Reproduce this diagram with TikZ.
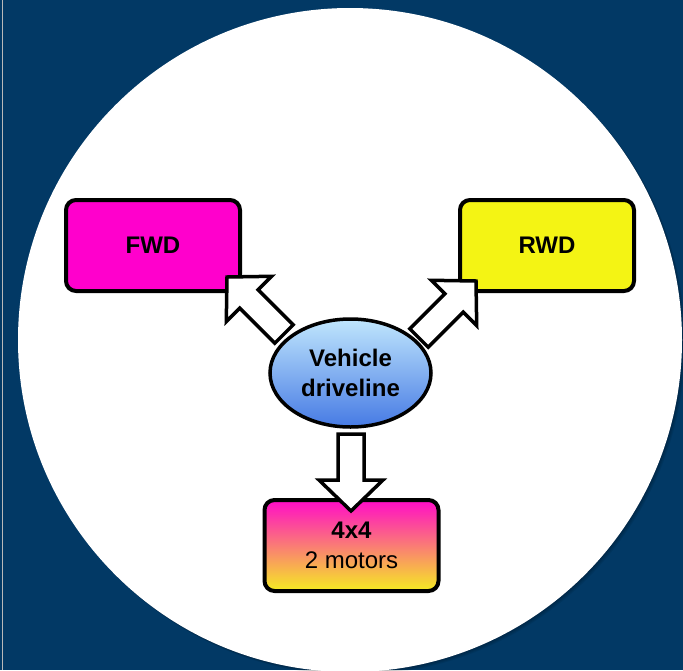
\documentclass[tikz,border=0pt]{standalone}
\usepackage{fontspec}
\setmainfont{Liberation Sans}
\usetikzlibrary{calc,shapes.geometric}
\definecolor{bgblue}{RGB}{2,57,101}
\definecolor{fwdmag}{RGB}{255,0,204}
\definecolor{rwdyel}{RGB}{244,244,20}
\definecolor{gradtop}{RGB}{255,12,200}
\definecolor{gradmid}{RGB}{246,128,122}
\definecolor{gradbot}{RGB}{245,236,34}
\definecolor{elltop}{RGB}{192,230,253}
\definecolor{ellbot}{RGB}{70,122,228}
\tikzset{
  boxnode/.style={draw=black, line width=4pt, rounded corners=10pt, minimum width=174pt, minimum height=91pt, inner sep=0pt, align=center, font=\fontsize{24}{30}\selectfont},
  hubnode/.style={ellipse, draw=black, line width=3.5pt, minimum width=161pt, minimum height=108pt, inner sep=0pt, align=center, top color=elltop, bottom color=ellbot, font=\fontsize{24}{30}\selectfont\bfseries},
  blockarrowstyle/.style={draw=black, fill=white, line width=3.5pt, line join=miter},
}
\newcommand\blockarrow[2]{%
  \coordinate (ba-b) at ($(#2)!31pt!(#1)$);
  \draw[blockarrowstyle] (#2) -- ($(ba-b)!32pt!90:(#2)$) -- ($(ba-b)!13pt!90:(#2)$)
     -- ($(#1)!13pt!90:(#2)$) -- ($(#1)!13pt!-90:(#2)$) -- ($(ba-b)!13pt!-90:(#2)$)
     -- ($(ba-b)!32pt!-90:(#2)$) -- cycle;
}
\begin{document}
\begin{tikzpicture}[x=1pt,y=-1pt]
\useasboundingbox (0,0) rectangle (683,670);
\clip (0,0) rectangle (683,670);
\fill[bgblue] (0,0) rectangle (683,670);
\draw[gray!55, line width=1pt] (2.5,0) -- (2.5,670);
% soft shadow of the disc
\foreach \i in {1,...,4}{
  \fill[black, opacity=0.07] (350+0.8*\i,340+0.8*\i) circle (332pt);
}
\fill[white] (350,340) circle (332pt);

\node[boxnode, fill=fwdmag] (fwd) at (153,245.5) {\textbf{FWD}};
\node[boxnode, fill=rwdyel] (rwd) at (547,245.5) {\textbf{RWD}};
\node[boxnode, top color=gradtop, middle color=gradmid, bottom color=gradbot] (fx4) at (351.5,545.5) {\textbf{4x4}\\2 motors};
\node[hubnode] (drive) at (350.5,373) {Vehicle\\driveline};

\coordinate (t1) at (227,277);
\coordinate (s1) at (284,334);
\coordinate (t2) at (476,281);
\coordinate (s2) at (419,338);
\coordinate (t3) at (351,511);
\coordinate (s3) at (351,434);

\blockarrow{s1}{t1}
\blockarrow{s2}{t2}
\blockarrow{s3}{t3}
\end{tikzpicture}
\end{document}
